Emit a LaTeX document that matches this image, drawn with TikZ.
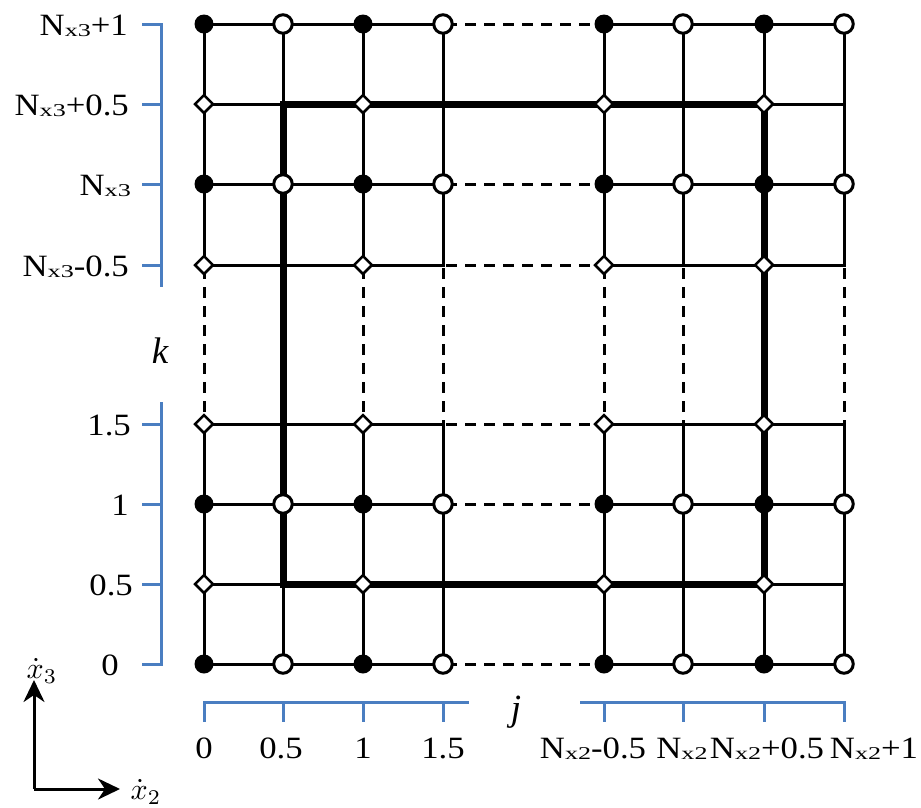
\documentclass[tikz,border=0pt]{standalone}
\usepackage{fontspec}
\setmainfont{Liberation Serif}
\newfontfamily\labfont[FakeStretch=1.12]{Liberation Serif}
\newfontfamily\subfont[FakeStretch=1.45]{Liberation Serif}
\usetikzlibrary{shapes.geometric,arrows.meta}
\definecolor{axisblue}{RGB}{74,126,193}
\newcommand\Nsub[1]{N\raisebox{-1.5pt}{\fontsize{18}{18}\subfont x#1}}
\begin{document}
\begin{tikzpicture}[x=1pt,y=-1pt,
  gridline/.style={line width=3pt,line cap=rect},
  boldline/.style={line width=7pt,line join=miter},
  dashline/.style={line width=3pt,dash pattern=on 11pt off 8pt,dash phase=16pt},
  filleddot/.style={circle,fill=black,inner sep=0pt,minimum size=19pt},
  opendot/.style={circle,draw=black,fill=white,line width=3pt,inner sep=0pt,minimum size=18.5pt},
  diamondmark/.style={diamond,draw=black,fill=white,line width=2.5pt,inner sep=0pt,minimum size=19pt},
  bluebar/.style={draw=axisblue,line width=3pt,line join=miter},
  lab/.style={font=\fontsize{31}{31}\labfont,inner sep=0pt},
  idx/.style={font=\fontsize{37}{37}\selectfont\itshape,inner sep=0pt},
  axisarrow/.style={line width=3pt,-{Stealth[length=22pt,width=21pt,inset=7pt]}}
]
\useasboundingbox (0,0) rectangle (921,807);

% grid coordinates
\foreach \x [count=\i] in {204,283,363,443,604,683,764,844}
  \foreach \y [count=\j] in {24,104,184,265,424,504,584,664}
    \coordinate (p\i-\j) at (\x,\y);

% horizontal lines
\foreach \j in {1,3,4,5,6,8} {
  \draw[gridline] (p1-\j) -- (p4-\j);
  \draw[dashline] (p4-\j) -- (p5-\j);
  \draw[gridline] (p5-\j) -- (p8-\j);
}
\foreach \j in {2,7} {
  \draw[gridline] (p1-\j) -- (p2-\j);
  \draw[gridline] (p7-\j) -- (p8-\j);
}
% vertical lines
\foreach \i in {1,3,4,5,6,8} {
  \draw[gridline] (p\i-1) -- (p\i-4);
  \draw[dashline] (p\i-4) -- (p\i-5);
  \draw[gridline] (p\i-5) -- (p\i-8);
}
\foreach \i in {2,7} {
  \draw[gridline] (p\i-1) -- (p\i-2);
  \draw[gridline] (p\i-7) -- (p\i-8);
}
% thick box
\draw[boldline] (p2-2) rectangle (p7-7);

% markers
\foreach \i in {1,3,5,7} {
  \foreach \j in {1,3,6,8} \node[filleddot] (m\i-\j) at (p\i-\j) {};
  \foreach \j in {2,4,5,7} \node[diamondmark] (m\i-\j) at (p\i-\j) {};
}
\foreach \i in {2,4,6,8}
  \foreach \j in {1,3,6,8} \node[opendot] (m\i-\j) at (p\i-\j) {};

% blue index brackets
\draw[bluebar] (142,24) -- (161,24) -- (161,287);
\foreach \y in {104,184,265} \draw[bluebar] (142,\y) -- (161,\y);
\draw[bluebar] (161,402) -- (161,664) -- (142,664);
\foreach \y in {424,504,584} \draw[bluebar] (142,\y) -- (161,\y);
\draw[bluebar] (204,722) -- (204,702) -- (469,702);
\foreach \x in {283,363,443} \draw[bluebar] (\x,702) -- (\x,722);
\draw[bluebar] (580,702) -- (844,702) -- (844,722);
\foreach \x in {604,683,764} \draw[bluebar] (\x,702) -- (\x,722);

% k labels
\node[lab,anchor=base east] (k1) at (128,35) {\Nsub{3}+1};
\node[lab,anchor=base east] (k2) at (129,115) {\Nsub{3}+0.5};
\node[lab,anchor=base east] (k3) at (131,195) {\Nsub{3}};
\node[lab,anchor=base east] (k4) at (129,276) {\Nsub{3}-0.5};
\node[lab,anchor=base east] (k5) at (131,435) {1.5};
\node[lab,anchor=base east] (k6) at (129,515) {1};
\node[lab,anchor=base east] (k7) at (133,595) {0.5};
\node[lab,anchor=base east] (k8) at (119,675) {0};
\node[idx,anchor=base] (klab) at (160,363) {k};

% j labels
\node[lab,anchor=base] (j1) at (204,758) {0};
\node[lab,anchor=base] (j2) at (281,758) {0.5};
\node[lab,anchor=base] (j3) at (363,758) {1};
\node[lab,anchor=base] (j4) at (443,758) {1.5};
\node[lab,anchor=base] (j5) at (593,758) {\Nsub{2}-0.5};
\node[lab,anchor=base] (j6) at (682,758) {\Nsub{2}};
\node[lab,anchor=base] (j7) at (767,758) {\Nsub{2}+0.5};
\node[lab,anchor=base] (j8) at (874,758) {\Nsub{2}+1};
\node[idx,anchor=base] (jlab) at (516,720) {j};

% coordinate axes
\coordinate (o) at (34,789);
\coordinate (ax3) at (34,680);
\coordinate (ax2) at (120,789);
\draw[axisarrow] (o) -- (ax3);
\draw[axisarrow] (o) -- (ax2);
\node[scale=3,inner sep=0pt] (x3) at (42,671) {$\dot{x}_3$};
\node[scale=3,inner sep=0pt] (x2) at (146,792) {$\dot{x}_2$};
\end{tikzpicture}
\end{document}
